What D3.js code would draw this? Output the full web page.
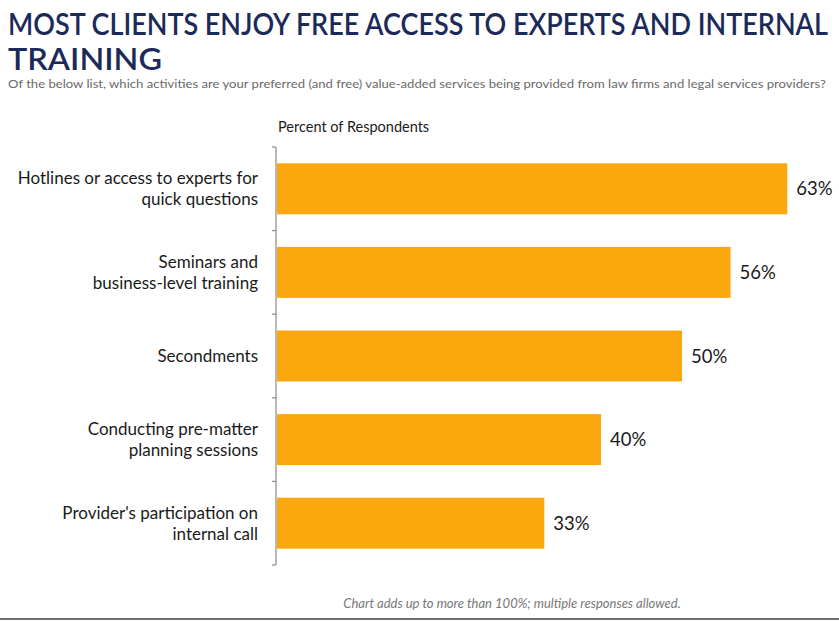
<!DOCTYPE html>
<html>
<head>
<meta charset="utf-8">
<script src="https://cdn.jsdelivr.net/npm/d3@7/dist/d3.min.js"></script>
<style>
  body { margin: 0; background: #fff; }
  svg { display: block; font-family: Lato, "Open Sans", sans-serif; }
</style>
</head>
<body>
<div id="chart"></div>
<script>
// Chart data
const categories = [
  ['Hotlines or access to experts for', 'quick questions'],
  ['Seminars and', 'business-level training'],
  ['Secondments'],
  ['Conducting pre-matter', 'planning sessions'],
  ["Provider's participation on", 'internal call'],
];
const values = [63, 56, 50, 40, 33];
const valueLabels = ['63%', '56%', '50%', '40%', '33%'];

const titleLines = ['MOST CLIENTS ENJOY FREE ACCESS TO EXPERTS AND INTERNAL', 'TRAINING'];
const subtitle = 'Of the below list, which activities are your preferred (and free) value-added services being provided from law firms and legal services providers?';
const axisTitle = 'Percent of Respondents';
const footnote = 'Chart adds up to more than 100%; multiple responses allowed.';

const width = 839;
const height = 622;
const margin = { top: 147, left: 276, bottom: 57 };

const svg = d3.select('#chart')
  .append('svg')
  .attr('width', width)
  .attr('height', height);

// Title
svg.selectAll('.title')
  .data(titleLines)
  .enter().append('text')
  .attr('class', 'title')
  .attr('x', 8)
  .attr('y', (d, i) => 35 + i * 35)
  .attr('fill', '#1c2a5a')
  .style('font-size', '30px')
  .style('font-weight', 600)
  .attr('textLength', (d, i) => (i === 0 ? 820 : 154))
  .attr('lengthAdjust', 'spacingAndGlyphs')
  .text(d => d);

svg.append('text')
  .attr('x', 8)
  .attr('y', 88)
  .attr('fill', '#6a6a6a')
  .style('font-size', '11.5px')
  .attr('textLength', 818)
  .attr('lengthAdjust', 'spacingAndGlyphs')
  .text(subtitle);

// Scales
const x = d3.scaleLinear().domain([0, 100]).range([0, 810]);
const y = d3.scaleBand()
  .domain(d3.range(values.length))
  .range([margin.top, height - margin.bottom])
  .paddingInner(0.39)
  .paddingOuter(0.195);

const g = svg.append('g').attr('transform', `translate(${margin.left},0)`);

// Bars
g.selectAll('rect')
  .data(values)
  .enter().append('rect')
  .attr('x', 1)
  .attr('y', (d, i) => y(i))
  .attr('width', d => x(d))
  .attr('height', y.bandwidth())
  .attr('fill', '#fba80f');

// Value labels
g.selectAll('.value')
  .data(values)
  .enter().append('text')
  .attr('class', 'value')
  .attr('x', d => x(d) + 10)
  .attr('y', (d, i) => y(i) + y.bandwidth() / 2 + 6.5)
  .attr('fill', '#1a1a1a')
  .style('font-size', '18.5px')
  .text((d, i) => valueLabels[i]);

// Axis line with boundary ticks
const step = y.step();
const bounds = d3.range(values.length + 1).map(i => margin.top + i * step);
g.append('line')
  .attr('x1', 0).attr('x2', 0)
  .attr('y1', margin.top).attr('y2', height - margin.bottom)
  .attr('stroke', '#8a8a8a')
  .attr('stroke-width', 1.2);
g.selectAll('.tick')
  .data(bounds)
  .enter().append('line')
  .attr('class', 'tick')
  .attr('x1', -4).attr('x2', 0)
  .attr('y1', d => d).attr('y2', d => d)
  .attr('stroke', '#8a8a8a')
  .attr('stroke-width', 1.2);

// Category labels
const labels = svg.selectAll('.cat')
  .data(categories)
  .enter().append('text')
  .attr('class', 'cat')
  .attr('text-anchor', 'end')
  .attr('fill', '#1a1a1a')
  .style('font-size', '17px');
labels.selectAll('tspan')
  .data((d, i) => d.map((line, j) => ({ line, j, n: d.length, i })))
  .enter().append('tspan')
  .attr('x', 258)
  .attr('y', d => y(d.i) + y.bandwidth() / 2 + 6 + (d.j - (d.n - 1) / 2) * 21)
  .text(d => d.line);

// Axis title
svg.append('text')
  .attr('x', 278)
  .attr('y', 132)
  .attr('fill', '#1a1a1a')
  .style('font-size', '14.5px')
  .text(axisTitle);

// Footnote
svg.append('text')
  .attr('x', 512)
  .attr('y', 608)
  .attr('text-anchor', 'middle')
  .attr('fill', '#777')
  .style('font-size', '13px')
  .style('font-style', 'italic')
  .text(footnote);

// Bottom rule
svg.append('line')
  .attr('x1', 0).attr('x2', width)
  .attr('y1', 619).attr('y2', 619)
  .attr('stroke', '#707070')
  .attr('stroke-width', 2);
</script>
</body>
</html>
